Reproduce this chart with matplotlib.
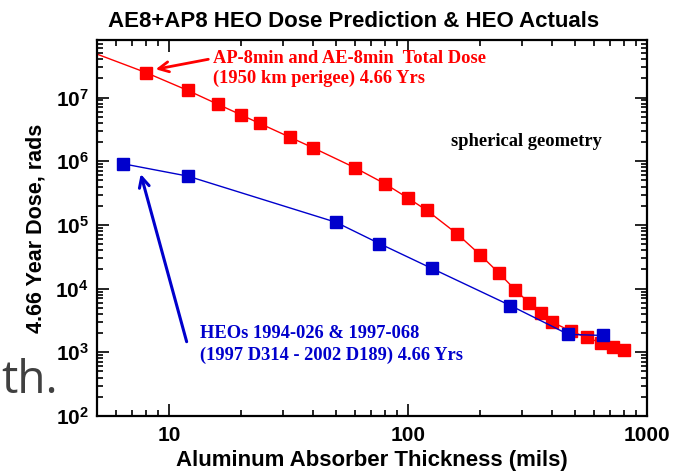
import math
import matplotlib
matplotlib.use('Agg')
import matplotlib.pyplot as plt
from matplotlib.ticker import LogLocator, FixedLocator, FuncFormatter, NullFormatter

plt.rcParams['mathtext.fontset'] = 'custom'
plt.rcParams['mathtext.rm'] = 'Liberation Sans:bold'
plt.rcParams['mathtext.bf'] = 'Liberation Sans:bold'

# AE8 + AP8 model total dose (line starts at the left edge of the plot)
model_thickness = [5, 8, 12, 16, 20, 24, 32, 40, 60, 80, 100, 120, 160, 200,
                   240, 280, 320, 360, 400, 480, 560, 640, 720, 800]
model_dose = [4.8e7, 2.47e7, 1.29e7, 7.85e6, 5.36e6, 3.91e6, 2.39e6, 1.63e6,
              7.9e5, 4.44e5, 2.64e5, 1.69e5, 7.31e4, 3.42e4, 1.76e4, 9.68e3,
              6.05e3, 4.07e3, 3.0e3, 2.15e3, 1.71e3, 1.41e3, 1.19e3, 1.07e3]

# HEO measured dose
heo_thickness = [6.4, 12, 50, 76, 126, 268, 469, 653]
heo_dose = [9.14e5, 5.83e5, 1.10e5, 5.09e4, 2.07e4, 5.43e3, 1.91e3, 1.84e3]

x_ticks = [10, 100, 1000]
x_tick_labels = ['10', '100', '1000']

red = '#ff0000'
blue = '#0000cc'
serif = 'Liberation Serif'
sans = 'Liberation Sans'


def x_fmt(v, pos):
    v = int(round(v))
    return x_tick_labels[x_ticks.index(v)] if v in x_ticks else ''


def y_fmt(v, pos):
    return r'$\mathbf{10^{%d}}$' % round(math.log10(v))


fig = plt.figure(figsize=(6.77, 4.71), dpi=100)
ax = fig.add_axes([97 / 677, 1 - 416 / 471, 550 / 677, 376 / 471])

ax.plot(model_thickness, model_dose, color=red, lw=1, marker='s', ms=8.5,
        mec=red, mfc=red, markevery=list(range(1, len(model_thickness))))
ax.plot(heo_thickness, heo_dose, color=blue, lw=1, marker='s', ms=8.5,
        mec=blue, mfc=blue)

ax.set_xscale('log')
ax.set_yscale('log')
ax.set_xlim(5, 1000)
ax.set_ylim(100, 8e7)

ax.xaxis.set_major_locator(FixedLocator(x_ticks))
ax.xaxis.set_major_formatter(FuncFormatter(x_fmt))
ax.xaxis.set_minor_locator(LogLocator(base=10, subs=range(2, 10), numticks=20))
ax.xaxis.set_minor_formatter(NullFormatter())

ax.yaxis.set_major_locator(LogLocator(base=10, numticks=20))
ax.yaxis.set_major_formatter(FuncFormatter(y_fmt))
ax.yaxis.set_minor_locator(LogLocator(base=10, subs=range(2, 10), numticks=20))
ax.yaxis.set_minor_formatter(NullFormatter())

ax.tick_params(which='both', direction='in', top=True, right=True, width=1.2, color='black')
ax.tick_params(which='major', length=8.5)
ax.tick_params(which='minor', length=4)
ax.tick_params(axis='x', which='major', pad=7, labelsize=15)
ax.tick_params(axis='y', which='major', pad=6, labelsize=15)
for lab in ax.get_xticklabels():
    lab.set_fontfamily(sans)
    lab.set_fontweight('bold')
for s in ax.spines.values():
    s.set_linewidth(1.6)

ax.set_xlabel('Aluminum Absorber Thickness (mils)', fontsize=16, fontweight='bold',
              family=sans, labelpad=4)
ax.set_ylabel('4.66 Year Dose, rads', fontsize=15.5, fontweight='bold',
              family=sans, labelpad=6)

fig.text(108 / 677, 1 - 26.7 / 471, 'AE8+AP8 HEO Dose Prediction & HEO Actuals',
         fontsize=16, fontweight='bold', family=sans, ha='left', va='baseline')

# model annotation
ax.text(0.2104, 0.9396, 'AP-8min and AE-8min  Total Dose', transform=ax.transAxes,
        color=red, fontsize=13.3, fontweight='bold', family=serif, va='baseline')
ax.text(0.2104, 0.8848, '(1950 km perigee) 4.66 Yrs', transform=ax.transAxes,
        color=red, fontsize=13.3, fontweight='bold', family=serif, va='baseline')
ax.annotate('', xy=(0.1067, 0.9221), xytext=(0.2024, 0.9487),
            xycoords='axes fraction', textcoords='axes fraction',
            arrowprops=dict(arrowstyle='->', color=red, lw=2, mutation_scale=18,
                            shrinkA=0, shrinkB=0))

# HEO annotation
ax.text(0.1873, 0.2066, 'HEOs 1994-026 & 1997-068', transform=ax.transAxes,
        color=blue, fontsize=13.3, fontweight='bold', family=serif, va='baseline')
ax.text(0.1873, 0.1489, '(1997 D314 - 2002 D189) 4.66 Yrs', transform=ax.transAxes,
        color=blue, fontsize=13.3, fontweight='bold', family=serif, va='baseline')
ax.annotate('', xy=(0.0795, 0.6436), xytext=(0.163, 0.1976),
            xycoords='axes fraction', textcoords='axes fraction',
            arrowprops=dict(arrowstyle='->', color=blue, lw=2.2, mutation_scale=18,
                            shrinkA=0, shrinkB=0))

ax.text(0.7813, 0.718, 'spherical geometry', transform=ax.transAxes,
        fontsize=13.3, fontweight='bold', family=serif, ha='center', va='baseline')

# leftover slide text behind the chart
fig.text(1 / 677, 1 - 393 / 471, 'th.', fontsize=33, color='#404040',
         family='Open Sans', ha='left', va='baseline', zorder=0)

fig.savefig('out.png', dpi=100)
